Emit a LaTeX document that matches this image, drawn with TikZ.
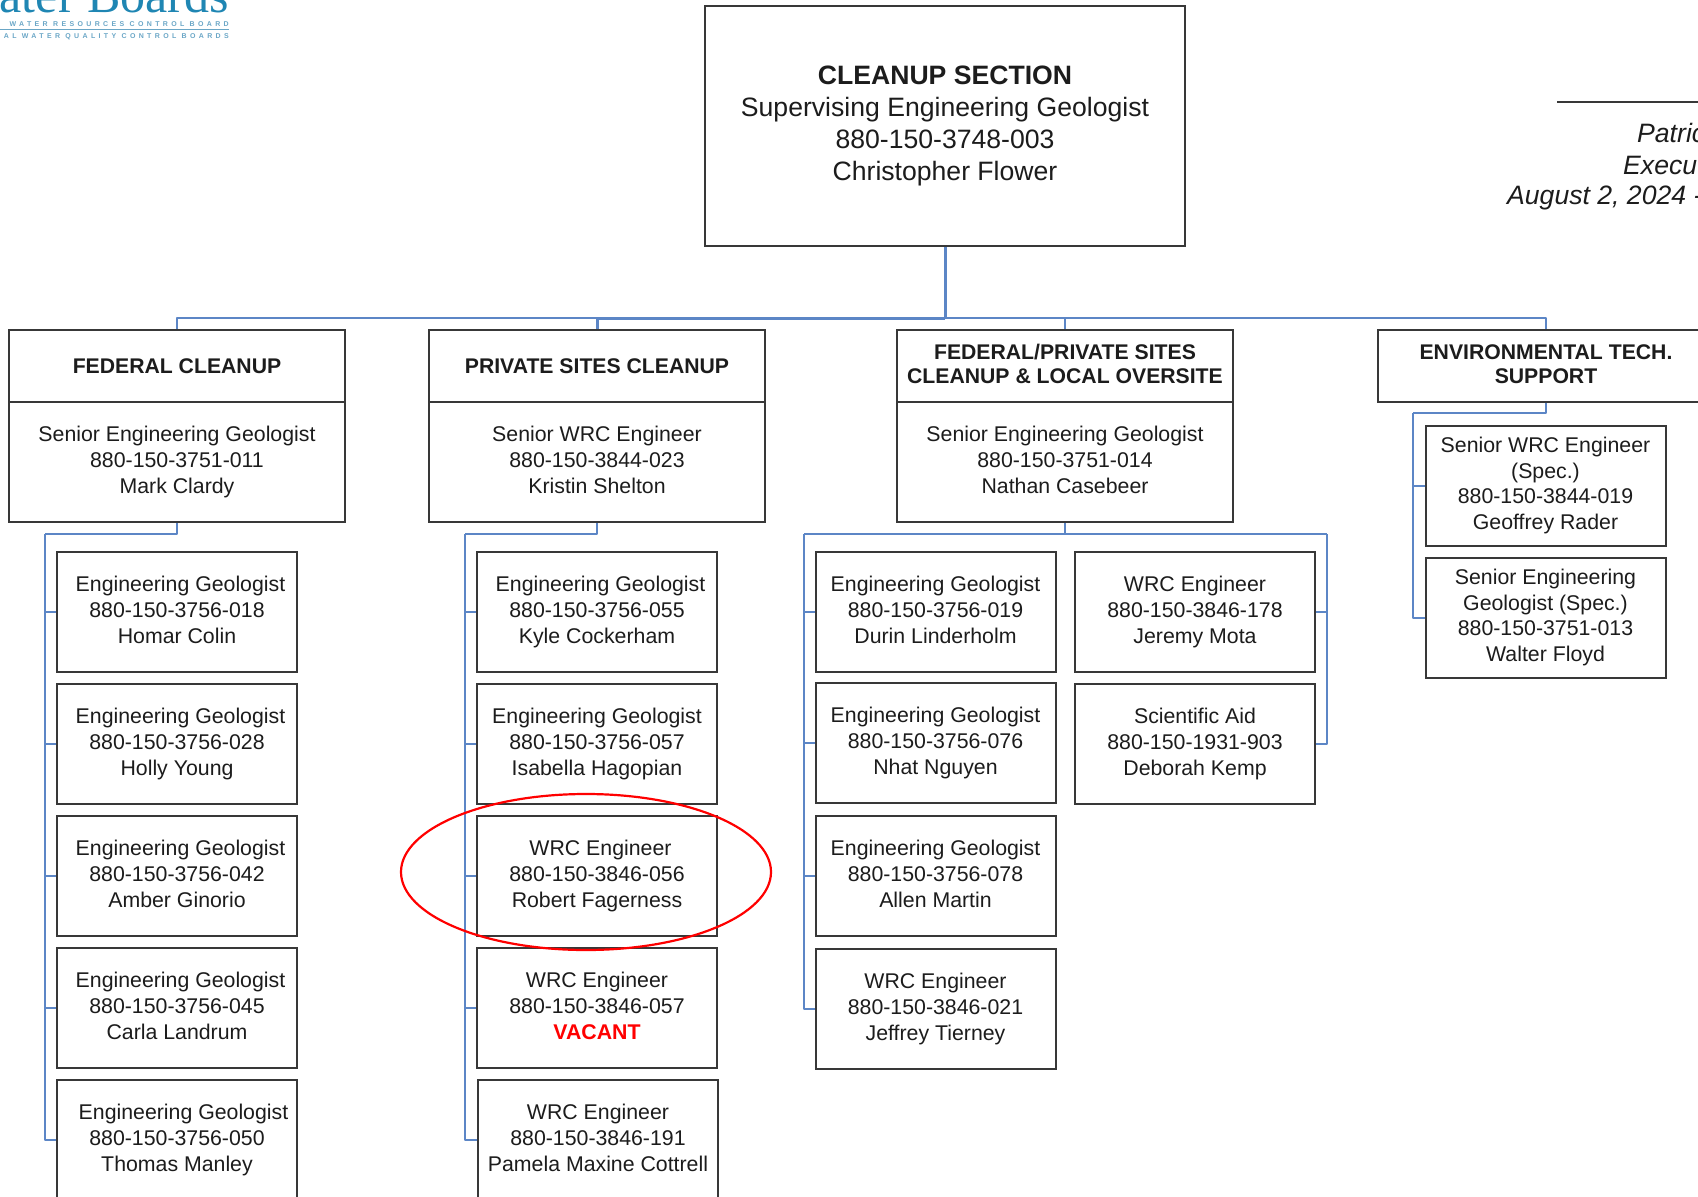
\documentclass[tikz,border=0pt]{standalone}
\usepackage{fontspec}
\usetikzlibrary{shapes.geometric}
\setmainfont{Liberation Sans}
\newfontfamily\logoserif{Liberation Serif}
\newfontfamily\logosmall[LetterSpace=48]{Liberation Sans}
\definecolor{linkblue}{HTML}{5C86C6}
\definecolor{boxline}{HTML}{383838}
\definecolor{inktext}{HTML}{1C1C1C}
\definecolor{logoteal}{HTML}{1F86B3}
\definecolor{logolight}{HTML}{6AA6C6}
\newcommand{\indentby}[1]{\hspace*{#1pt}}
\newcommand{\staffstrut}{\rule[-5.25pt]{0pt}{27.9pt}}
\newcommand{\substrut}{\rule[-5.25pt]{0pt}{29.9pt}}
\newcommand{\fourstrut}{\rule[-5.25pt]{0pt}{28pt}}
\newcommand{\headstrut}{\rule[-4.35pt]{0pt}{23.9pt}}
\newcommand{\topstrut}{\rule[-6.35pt]{0pt}{33.9pt}}
\tikzset{
  every node/.style={text=inktext},
  orgbox/.style={draw=boxline,line width=2pt,fill=white,inner sep=0pt,align=center,font=\fontsize{21.3}{26}\selectfont},
  staffbox/.style={orgbox,minimum width=240pt,minimum height=120pt,execute at begin node=\staffstrut,execute at end node=\rule[-5.25pt]{0pt}{5.25pt}},
  fourbox/.style={orgbox,minimum width=240pt,minimum height=120pt,font=\fontsize{21.3}{25.6}\selectfont,execute at begin node=\fourstrut,execute at end node=\rule[-5.25pt]{0pt}{5.25pt}},
  headbox/.style={orgbox,minimum width=336pt,minimum height=72pt,font=\fontsize{21.2}{24}\selectfont\bfseries,execute at begin node=\headstrut,execute at end node=\rule[-4.35pt]{0pt}{4.35pt}},
  subbox/.style={orgbox,minimum width=336pt,minimum height=120pt,execute at begin node=\substrut,execute at end node=\rule[-5.25pt]{0pt}{5.25pt}},
  topbox/.style={orgbox,minimum width=480pt,minimum height=240pt,font=\fontsize{26.6}{32}\selectfont,execute at begin node=\topstrut,execute at end node=\rule[-6.35pt]{0pt}{6.35pt}},
  link/.style={draw=linkblue,line width=2.3pt,line join=round},
  heavylink/.style={link,line width=3pt},
  noteit/.style={anchor=base west,inner sep=0pt,font=\fontsize{26.6}{32}\selectfont\itshape},
  logosmalltext/.style={anchor=base east,inner sep=0pt,text=logolight,font=\logosmall\bfseries\fontsize{7}{8}\selectfont},
}
\begin{document}
\begin{tikzpicture}[x=1pt,y=-1pt]
\useasboundingbox (0,0) rectangle (1698,1197);
\clip (0,0) rectangle (1698,1197);
% connector coordinates
\coordinate (bus) at (945,318);
\coordinate (spA) at (45,534);
\coordinate (spB) at (465,534);
\coordinate (spC) at (804,534);
\coordinate (spD) at (1327,534);
\coordinate (spE) at (1413,413);
% logo
\node[anchor=base east,inner sep=0pt,text=logoteal,font=\logoserif\fontsize{50}{50}\selectfont] (logo) at (229,12) {ater Boards};
\node[logosmalltext] (logoa) at (229,26) {WATER RESOURCES CONTROL BOARD};
\coordinate (rulea) at (0,29.5);
\coordinate (ruleb) at (229,29.5);
\draw[logolight,line width=1pt] (rulea) -- (ruleb);
\node[logosmalltext] (logob) at (229,38.5) {NAL WATER QUALITY CONTROL BOARDS};
% right note
\coordinate (notea) at (1557,102);
\coordinate (noteb) at (1698,102);
\draw[boxline,line width=2pt] (notea) -- (noteb);
\node[noteit] (n1) at (1637,142) {Patric};
\node[noteit] (n2) at (1623,174) {Execu};
\node[noteit] (n3) at (1507,204) {August 2, 2024 -};
% connectors
\draw[heavylink] (945,246) -- (bus);
\draw[link] (bus) -| (177,330);
\draw[heavylink] (bus) -| (597,330);
\draw[link] (bus) -| (1065,330);
\draw[link] (bus) -| (1546,330);
% boxes
\node[topbox] (top) at (945,126) {\textbf{CLEANUP SECTION}\\Supervising Engineering Geologist\\880-150-3748-003\\Christopher Flower};
\node[subbox] (sA) at (177,462) {Senior Engineering Geologist\\880-150-3751-011\\Mark Clardy};
\node[subbox] (sB) at (597,462) {Senior WRC Engineer\\880-150-3844-023\\Kristin Shelton};
\node[subbox] (sC) at (1065,462) {Senior Engineering Geologist\\880-150-3751-014\\Nathan Casebeer};
\node[headbox] (hA) at (177,366) {FEDERAL CLEANUP};
\node[headbox] (hB) at (597,366) {PRIVATE SITES CLEANUP};
\node[headbox] (hC) at (1065,366) {FEDERAL/PRIVATE SITES\\CLEANUP \& LOCAL OVERSITE};
\node[headbox] (hD) at (1546,366) {ENVIRONMENTAL TECH.\\SUPPORT};
% federal column
\node[staffbox] (a1) at (177,612) {\indentby{7}Engineering Geologist\\880-150-3756-018\\Homar Colin};
\node[staffbox] (a2) at (177,744) {\indentby{7}Engineering Geologist\\880-150-3756-028\\Holly Young};
\node[staffbox] (a3) at (177,876) {\indentby{7}Engineering Geologist\\880-150-3756-042\\Amber Ginorio};
\node[staffbox] (a4) at (177,1008) {\indentby{7}Engineering Geologist\\880-150-3756-045\\Carla Landrum};
\node[staffbox] (a5) at (177,1140) {\indentby{13}Engineering Geologist\\880-150-3756-050\\Thomas Manley};
% private column
\node[staffbox] (b1) at (597,612) {\indentby{7}Engineering Geologist\\880-150-3756-055\\Kyle Cockerham};
\node[staffbox] (b2) at (597,744) {Engineering Geologist\\880-150-3756-057\\Isabella Hagopian};
\node[staffbox] (b3) at (597,876) {\indentby{7}WRC Engineer\\880-150-3846-056\\Robert Fagerness};
\node[staffbox] (b4) at (597,1008) {WRC Engineer\\880-150-3846-057\\\textcolor{red}{\textbf{VACANT}}};
\node[staffbox] (b5) at (598,1140) {WRC Engineer\\880-150-3846-191\\Pamela Maxine Cottrell};
% federal/private columns
\node[staffbox] (c1) at (935.5,612) {Engineering Geologist\\880-150-3756-019\\Durin Linderholm};
\node[staffbox] (c2) at (935.5,743) {Engineering Geologist\\880-150-3756-076\\Nhat Nguyen};
\node[staffbox] (c3) at (935.5,876) {Engineering Geologist\\880-150-3756-078\\Allen Martin};
\node[staffbox] (c4) at (935.5,1009) {WRC Engineer\\880-150-3846-021\\Jeffrey Tierney};
\node[staffbox] (d1) at (1195,612) {WRC Engineer\\880-150-3846-178\\Jeremy Mota};
\node[staffbox] (d2) at (1195,744) {Scientific Aid\\880-150-1931-903\\Deborah Kemp};
% environmental column
\node[fourbox] (e1) at (1545.5,486) {Senior WRC Engineer\\(Spec.)\\880-150-3844-019\\Geoffrey Rader};
\node[fourbox] (e2) at (1545.5,618) {Senior Engineering\\Geologist (Spec.)\\880-150-3751-013\\Walter Floyd};
% connectors below the boxes
\draw[link] (sA.south) |- (spA);
\draw[link] (spA) |- (a5.west);
\foreach \k in {a1,a2,a3,a4} \draw[link] (spA |- \k.west) -- (\k.west);
\draw[link] (sB.south) |- (spB);
\draw[link] (spB) |- (b5.west);
\foreach \k in {b1,b2,b3,b4} \draw[link] (spB |- \k.west) -- (\k.west);
\draw[link] (sC.south) |- (spC);
\draw[link] (spC) |- (c4.west);
\foreach \k in {c1,c2,c3} \draw[link] (spC |- \k.west) -- (\k.west);
\draw[link] (sC.south) |- (spD);
\draw[link] (spD) |- (d2.east);
\draw[link] (spD |- d1.east) -- (d1.east);
\draw[link] (hD.south) |- (spE);
\draw[link] (spE) |- (e2.west);
\draw[link] (spE |- e1.west) -- (e1.west);
% highlight
\node[draw=red,line width=2.2pt,ellipse,minimum width=370pt,minimum height=156pt,inner sep=0pt] (mark) at (586,872) {};
\end{tikzpicture}
\end{document}
